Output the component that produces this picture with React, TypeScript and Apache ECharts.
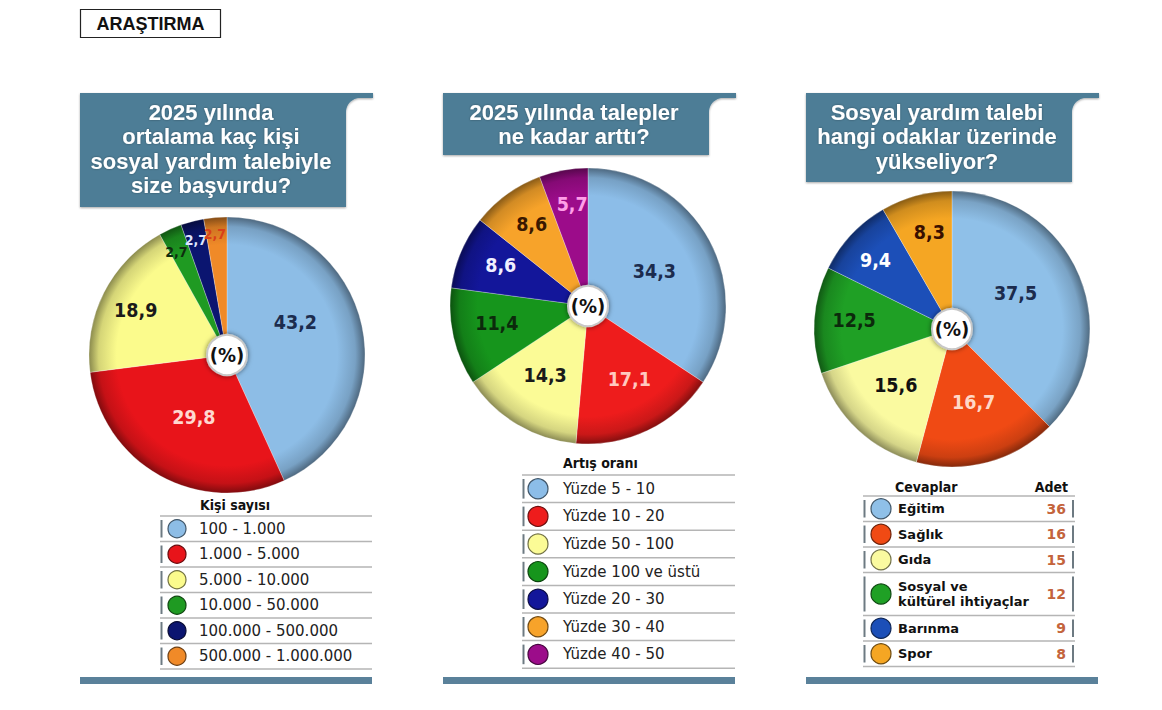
import React, { useEffect, useRef } from "react";
import * as echarts from "echarts";

// ---- data ----
const SIZE_CATEGORIES = ["100 - 1.000", "1.000 - 5.000", "5.000 - 10.000", "10.000 - 50.000", "100.000 - 500.000", "500.000 - 1.000.000"];
const SIZE_SHARES = [43.2, 29.8, 18.9, 2.7, 2.7, 2.7];

const GROWTH_CATEGORIES = ["Yüzde 5 - 10", "Yüzde 10 - 20", "Yüzde 50 - 100", "Yüzde 100 ve üstü", "Yüzde 20 - 30", "Yüzde 30 - 40", "Yüzde 40 - 50"];
const GROWTH_SHARES = [34.3, 17.1, 14.3, 11.4, 8.6, 8.6, 5.7];

const FOCUS_CATEGORIES = ["Eğitim", "Sağlık", "Gıda", "Sosyal ve\nkültürel ihtiyaçlar", "Barınma", "Spor"];
const FOCUS_COUNTS = [36, 16, 15, 12, 9, 8];

const PAGE_TAG = "ARAŞTIRMA";
const PANEL_TITLES = [
  ["2025 yılında", "ortalama kaç kişi", "sosyal yardım talebiyle", "size başvurdu?"],
  ["2025 yılında talepler", "ne kadar arttı?"],
  ["Sosyal yardım talebi", "hangi odaklar üzerinde", "yükseliyor?"],
];
const LEGEND_TITLES = ["Kişi sayısı", "Artış oranı", "Cevaplar"];
const COUNT_HEADER = "Adet";
const CENTER_TEXT = "(%)";

// ---- styling ----
const LABEL_FONT = "'DejaVu Sans Condensed', 'Liberation Sans Narrow', 'Arial Narrow', sans-serif";
const HEAD_FONT = "'Liberation Sans', Arial, Helvetica, sans-serif";
const BODY_FONT = "'DejaVu Sans', Verdana, sans-serif";
const HEADER_BLUE = "#4d7d96";

const SIZE_COLORS = ["#8dbde6", "#e8141a", "#fbfb8c", "#1f9a22", "#0b1570", "#f08a28"];
const SIZE_LABEL_COLORS = ["#1c2c4e", "#ffd8d0", "#1a1a1a", "#0e2e0e", "#dfe6ff", "#d8401a"];
const SIZE_LABEL_SIZES = [19.5, 19.5, 19.5, 14, 14, 14];
const SIZE_NUDGE = [[-2, -17], [2, 0], [-27, -12], [-21, -37], [-13, -45], [-6, -49]];

const GROWTH_COLORS = ["#8cbde8", "#ee1c1c", "#fbfb96", "#16951c", "#13169a", "#f7a32a", "#9c0c8a"];
const GROWTH_LABEL_COLORS = ["#1c2c4e", "#ffc8c0", "#1a1a1a", "#0c2a0c", "#f0f0ff", "#3a1800", "#ff9ee8"];
const GROWTH_NUDGE = [[3, 0], [10, 9], [-6, 8], [-21, 1], [-21, -12], [-14, -23], [-3, -31]];

const FOCUS_COLORS = ["#8fc0e8", "#f04a14", "#fafaa0", "#1fa025", "#1c4fb8", "#f5a623"];
const FOCUS_LABEL_COLORS = ["#1c2c4e", "#ffd8c8", "#111111", "#0c2a0c", "#ffffff", "#3a1000"];
const FOCUS_NUDGE = [[-3, -8], [3, 4], [-7, 4], [-26, -4], [-24, -19], [-4, -27]];

// ---- layout ----
const PANEL_X = [80, 443, 806];
const PANEL_W = 292;
const HEADER_TOP = 93;
const HEADER_BOTTOM = [207, 155, 182];
const PIE_CENTER = [[227, 355], [588, 306], [952, 329]];
const PIE_R = 138;

function shade(hex: string, f: number) {
  const n = parseInt(hex.slice(1), 16);
  const r = (n >> 16) & 255, g = (n >> 8) & 255, b = n & 255;
  return `rgb(${Math.round(r * f)},${Math.round(g * f)},${Math.round(b * f)})`;
}

function sliceFill(c: string, cx: number, cy: number) {
  return {
    type: "radial", x: cx, y: cy, r: PIE_R, global: true,
    colorStops: [
      { offset: 0, color: c },
      { offset: 0.8, color: c },
      { offset: 0.93, color: shade(c, 0.85) },
      { offset: 1, color: shade(c, 0.55) },
    ],
  };
}

function pieSeries(idx: number, names: string[], values: number[], colors: string[], labelColors: string[], nudges: number[][], fmt: (p: any) => string, sizes?: number[]) {
  const [cx, cy] = PIE_CENTER[idx];
  return {
    type: "pie",
    center: [cx, cy],
    radius: [0, PIE_R],
    startAngle: 90,
    clockwise: true,
    silent: true,
    avoidLabelOverlap: false,
    label: { show: true, position: "inside", formatter: fmt, fontFamily: LABEL_FONT, fontWeight: "bold", fontSize: 19.5 },
    labelLine: { show: false },
    labelLayout: (p: any) => {
      const n = nudges[p.dataIndex] || [0, 0];
      return { dx: n[0], dy: n[1] };
    },
    data: values.map((v, i) => ({
      value: v,
      name: names[i],
      itemStyle: { color: sliceFill(colors[i], cx, cy), borderColor: "rgba(255,255,255,0.35)", borderWidth: 0.8 },
      label: { color: labelColors[i], fontSize: sizes ? sizes[i] : 19.5 },
    })),
  };
}

function headerPoints(x0: number, bottom: number) {
  const top = HEADER_TOP, strip = 5, right = x0 + 266, end = x0 + PANEL_W + 1, rad = 14;
  const pts: number[][] = [[x0, top], [end, top], [end, top + strip], [right + rad, top + strip]];
  const cx = right + rad, cy = top + strip + rad;
  for (let k = 1; k <= 12; k++) {
    const a = 1.5 * Math.PI - (k * Math.PI) / 2 / 12;
    pts.push([cx + rad * Math.cos(a), cy + rad * Math.sin(a)]);
  }
  pts.push([right, bottom], [x0, bottom]);
  return pts;
}

function buildGraphics() {
  const g: any[] = [];
  // page tag
  g.push({ type: "rect", shape: { x: 80.5, y: 9.5, width: 140, height: 28 }, style: { fill: "#fff", stroke: "#222", lineWidth: 1.2 } });
  g.push({ type: "text", x: 150.5, y: 24, style: { text: PAGE_TAG, fill: "#111", font: `bold 18px ${HEAD_FONT}`, align: "center", verticalAlign: "middle" } });

  PANEL_X.forEach((x0, pi) => {
    // header block
    g.push({ type: "polygon", shape: { points: headerPoints(x0, HEADER_BOTTOM[pi]) }, style: { fill: HEADER_BLUE, shadowBlur: 2, shadowColor: "rgba(0,0,0,0.35)", shadowOffsetY: 1 } });
    PANEL_TITLES[pi].forEach((line, li) => {
      g.push({
        type: "text", x: x0 + 131, y: 112 + li * 24.6,
        style: { text: line, fill: "#ffffff", font: `bold 22px ${HEAD_FONT}`, align: "center", verticalAlign: "middle", textShadowColor: "rgba(0,0,0,0.35)", textShadowBlur: 2 },
      });
    });
    // bottom rule
    g.push({ type: "rect", shape: { x: x0, y: 677, width: PANEL_W, height: 7 }, style: { fill: "#5a819a" } });
    // centre badge
    const [cx, cy] = PIE_CENTER[pi];
    g.push({ type: "circle", z: 100, shape: { cx, cy, r: 20 }, style: { fill: "#ffffff", stroke: "#c8c8c8", lineWidth: 2, shadowBlur: 5, shadowColor: "rgba(0,0,0,0.55)" } });
    g.push({ type: "text", z: 101, x: cx, y: cy, style: { text: CENTER_TEXT, fill: "#111", font: `bold 20px ${LABEL_FONT}`, align: "center", verticalAlign: "middle" } });
  });

  // legend rows helper
  const legendRows = (opts: any) => {
    const { names, colors, rowTops, rowHeights, x1, x2, cxc, tx, r, font, textColor, rightBar } = opts;
    rowTops.forEach((top: number, i: number) => {
      const h = rowHeights[i];
      g.push({ type: "line", shape: { x1, y1: top, x2, y2: top }, style: { stroke: "#b5b5b5", lineWidth: 1.5 } });
      g.push({ type: "line", shape: { x1: x1 + 1.5, y1: top + 4, x2: x1 + 1.5, y2: top + h - 4 }, style: { stroke: "#6d7a82", lineWidth: 2 } });
      if (rightBar) g.push({ type: "line", shape: { x1: x2 - 2, y1: top + 4, x2: x2 - 2, y2: top + h - 4 }, style: { stroke: "#6d7a82", lineWidth: 2 } });
      const mid = top + h / 2;
      g.push({ type: "circle", shape: { cx: cxc, cy: mid, r }, style: { fill: colors[i], stroke: shade(colors[i], 0.45), lineWidth: 1.2 } });
      g.push({ type: "text", x: tx, y: mid, style: { text: names[i], fill: textColor, font, align: "left", verticalAlign: "middle", lineHeight: 15 } });
    });
    const last = rowTops[rowTops.length - 1] + rowHeights[rowHeights.length - 1];
    g.push({ type: "line", shape: { x1, y1: last, x2, y2: last }, style: { stroke: "#b5b5b5", lineWidth: 1.5 } });
  };

  // panel 1 legend
  g.push({ type: "text", x: 200, y: 505, style: { text: LEGEND_TITLES[0], fill: "#111", font: `bold 14px ${LABEL_FONT}`, verticalAlign: "middle" } });
  legendRows({
    names: SIZE_CATEGORIES, colors: SIZE_COLORS,
    rowTops: SIZE_CATEGORIES.map((_, i) => 516 + i * 25.5), rowHeights: SIZE_CATEGORIES.map(() => 25.5),
    x1: 160, x2: 372, cxc: 177, tx: 199, r: 9, font: `15px ${BODY_FONT}`, textColor: "#222",
  });

  // panel 2 legend
  g.push({ type: "text", x: 563, y: 463, style: { text: LEGEND_TITLES[1], fill: "#111", font: `bold 14px ${LABEL_FONT}`, verticalAlign: "middle" } });
  legendRows({
    names: GROWTH_CATEGORIES, colors: GROWTH_COLORS,
    rowTops: GROWTH_CATEGORIES.map((_, i) => 475 + i * 27.6), rowHeights: GROWTH_CATEGORIES.map(() => 27.6),
    x1: 522, x2: 735, cxc: 538, tx: 563, r: 10, font: `15px ${BODY_FONT}`, textColor: "#222",
  });

  // panel 3 legend
  g.push({ type: "text", x: 895, y: 487, style: { text: LEGEND_TITLES[2], fill: "#111", font: `bold 14px ${LABEL_FONT}`, verticalAlign: "middle" } });
  g.push({ type: "text", x: 1068, y: 487, style: { text: COUNT_HEADER, fill: "#111", font: `bold 14px ${LABEL_FONT}`, align: "right", verticalAlign: "middle" } });
  const focusHeights = FOCUS_CATEGORIES.map((n) => (n.includes("\n") ? 43 : 25.5));
  const focusTops: number[] = [];
  focusHeights.reduce((acc, h) => { focusTops.push(acc); return acc + h; }, 496);
  legendRows({
    names: FOCUS_CATEGORIES, colors: FOCUS_COLORS, rowTops: focusTops, rowHeights: focusHeights,
    x1: 863, x2: 1075, cxc: 881, tx: 898, r: 10, font: `bold 13px ${BODY_FONT}`, textColor: "#111", rightBar: true,
  });
  FOCUS_COUNTS.forEach((c, i) => {
    g.push({ type: "text", x: 1066, y: focusTops[i] + focusHeights[i] / 2, style: { text: String(c), fill: "#c4643c", font: `bold 14px ${BODY_FONT}`, align: "right", verticalAlign: "middle" } });
  });
  return g;
}

const comma = (v: number) => String(v).replace(".", ",");

export default function App() {
  const ref = useRef<HTMLDivElement>(null);
  useEffect(() => {
    document.body.style.margin = "0";
    if (!ref.current) return;
    const chart = echarts.init(ref.current, undefined, { renderer: "svg" });
    const focusTotal = FOCUS_COUNTS.reduce((a, b) => a + b, 0);
    chart.setOption({
      animation: false,
      backgroundColor: "#ffffff",
      series: [
        pieSeries(0, SIZE_CATEGORIES, SIZE_SHARES, SIZE_COLORS, SIZE_LABEL_COLORS, SIZE_NUDGE, (p) => comma(p.value), SIZE_LABEL_SIZES),
        pieSeries(1, GROWTH_CATEGORIES, GROWTH_SHARES, GROWTH_COLORS, GROWTH_LABEL_COLORS, GROWTH_NUDGE, (p) => comma(p.value)),
        pieSeries(2, FOCUS_CATEGORIES, FOCUS_COUNTS, FOCUS_COLORS, FOCUS_LABEL_COLORS, FOCUS_NUDGE, (p) => ((p.value / focusTotal) * 100).toFixed(1).replace(".", ",")),
      ],
      graphic: { elements: buildGraphics() },
    });
    return () => chart.dispose();
  }, []);
  return <div ref={ref} style={{ position: "fixed", left: 0, top: 0, width: 1162, height: 710, background: "#fff" }} />;
}
